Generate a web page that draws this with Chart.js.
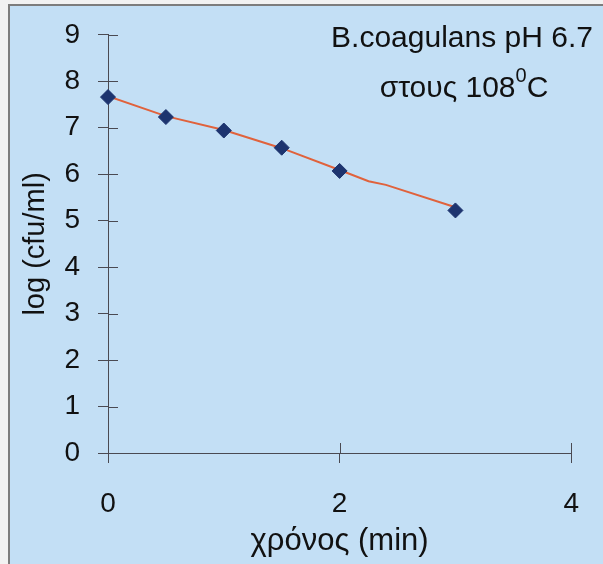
<!DOCTYPE html>
<html>
<head>
<meta charset="utf-8">
<script src="https://cdn.jsdelivr.net/npm/chart.js@4"></script>
<style>
  html, body { margin: 0; padding: 0; background: #f2f2f2; }
  #wrap { width: 603px; height: 564px; }
</style>
</head>
<body>
<div id="wrap"><canvas id="myChart" width="603" height="564"></canvas></div>
<script>
// measured points
const timeMin = [0, 0.5, 1, 1.5, 2, 3];
const logCfu = [7.66, 7.23, 6.94, 6.57, 6.07, 5.22];

// red trend line as drawn in the picture
const fitTime = [0, 0.5, 1, 1.5, 2, 2.25, 2.4, 3];
const fitLog = [7.68, 7.25, 6.95, 6.56, 6.09, 5.85, 5.77, 5.29];

const xTicks = [0, 2, 4];
const yTicks = [0, 1, 2, 3, 4, 5, 6, 7, 8, 9];

const titleLine1 = 'B.coagulans pH 6.7';
const titleLine2 = ['στους 108', '0', 'C'];

const bgBlue = '#c3dff5';
const axisColor = '#4a4a52';
const textColor = '#111111';
const fontFamily = '"Liberation Sans", Arial, sans-serif';

const backgroundPlugin = {
  id: 'background',
  beforeDraw(chart) {
    const c = chart.ctx;
    c.save();
    c.fillStyle = '#f2f2f2';
    c.fillRect(0, 0, chart.width, chart.height);
    c.fillStyle = bgBlue;
    c.fillRect(10, 6, chart.width - 10, chart.height - 6);
    c.strokeStyle = '#7d7d7d';
    c.lineWidth = 2;
    c.beginPath();
    c.moveTo(9, chart.height);
    c.lineTo(9, 5);
    c.lineTo(chart.width, 5);
    c.stroke();
    c.restore();
  }
};

// tick marks in the original cross the axis, add the inner half
const innerTicks = {
  id: 'innerTicks',
  beforeDatasetsDraw(chart) {
    const c = chart.ctx;
    const x = chart.scales.x, y = chart.scales.y;
    const left = chart.chartArea.left, bottom = chart.chartArea.bottom;
    c.save();
    c.strokeStyle = axisColor;
    c.lineWidth = 1;
    c.beginPath();
    yTicks.forEach(v => {
      if (v === 0) return;
      const py = Math.round(y.getPixelForValue(v)) + 0.5;
      c.moveTo(left, py);
      c.lineTo(left + 10, py);
    });
    xTicks.forEach(v => {
      if (v === 0) return;
      const px = Math.round(x.getPixelForValue(v)) + 0.5;
      c.moveTo(px, bottom);
      c.lineTo(px, bottom - 10);
    });
    c.stroke();
    c.restore();
  }
};

const titlePlugin = {
  id: 'cornerTitle',
  afterDraw(chart) {
    const c = chart.ctx;
    c.save();
    c.fillStyle = textColor;
    c.textBaseline = 'alphabetic';
    c.font = '30px ' + fontFamily;
    c.textAlign = 'center';
    c.fillText(titleLine1, 462, 47);

    const bigFont = '30px ' + fontFamily;
    const smallFont = '20px ' + fontFamily;
    c.font = bigFont;
    const w1 = c.measureText(titleLine2[0]).width;
    const w3 = c.measureText(titleLine2[2]).width;
    c.font = smallFont;
    const w2 = c.measureText(titleLine2[1]).width;
    let sx = 464 - (w1 + w2 + w3) / 2;
    c.textAlign = 'left';
    c.font = bigFont;
    c.fillText(titleLine2[0], sx, 97);
    c.font = smallFont;
    c.fillText(titleLine2[1], sx + w1, 82);
    c.font = bigFont;
    c.fillText(titleLine2[2], sx + w1 + w2, 97);
    c.restore();
  }
};

const ctx = document.getElementById('myChart').getContext('2d');

new Chart(ctx, {
  type: 'scatter',
  data: {
    datasets: [{
      label: 'log (cfu/ml)',
      data: timeMin.map((t, i) => ({ x: t, y: logCfu[i] })),
      pointStyle: 'rectRot',
      pointRadius: 7.5,
      backgroundColor: '#1d346f',
      borderColor: '#1d346f',
      showLine: false,
      clip: false
    }, {
      label: 'fit',
      data: fitTime.map((t, i) => ({ x: t, y: fitLog[i] })),
      showLine: true,
      pointRadius: 0,
      borderColor: '#e0623c',
      borderWidth: 2,
      tension: 0
    }]
  },
  options: {
    responsive: false,
    animation: false,
    layout: { padding: { left: 0, top: 33, right: 29, bottom: 0 } },
    plugins: {
      legend: { display: false },
      tooltip: { enabled: false }
    },
    scales: {
      x: {
        type: 'linear',
        min: 0,
        max: 4,
        afterFit: s => { s.height = 111; },
        afterBuildTicks: s => { s.ticks = xTicks.map(v => ({ value: v })); },
        ticks: {
          color: textColor,
          font: { family: fontFamily, size: 28 },
          padding: 24
        },
        grid: { drawOnChartArea: false, tickLength: 10, color: axisColor },
        border: { color: axisColor, width: 1 },
        title: {
          display: true,
          text: 'χρόνος (min)',
          color: textColor,
          font: { family: fontFamily, size: 31 },
          padding: { top: 0, bottom: 4 }
        }
      },
      y: {
        min: 0,
        max: 9,
        afterFit: s => { s.width = 108; },
        afterBuildTicks: s => { s.ticks = yTicks.map(v => ({ value: v })); },
        ticks: {
          color: textColor,
          font: { family: fontFamily, size: 28 },
          padding: 18
        },
        grid: { drawOnChartArea: false, tickLength: 10, color: axisColor },
        border: { color: axisColor, width: 1 },
        title: {
          display: true,
          text: 'log (cfu/ml)',
          color: textColor,
          font: { family: fontFamily, size: 29 },
          padding: { top: 19, bottom: 0 }
        }
      }
    }
  },
  plugins: [backgroundPlugin, innerTicks, titlePlugin]
});
</script>
</body>
</html>
